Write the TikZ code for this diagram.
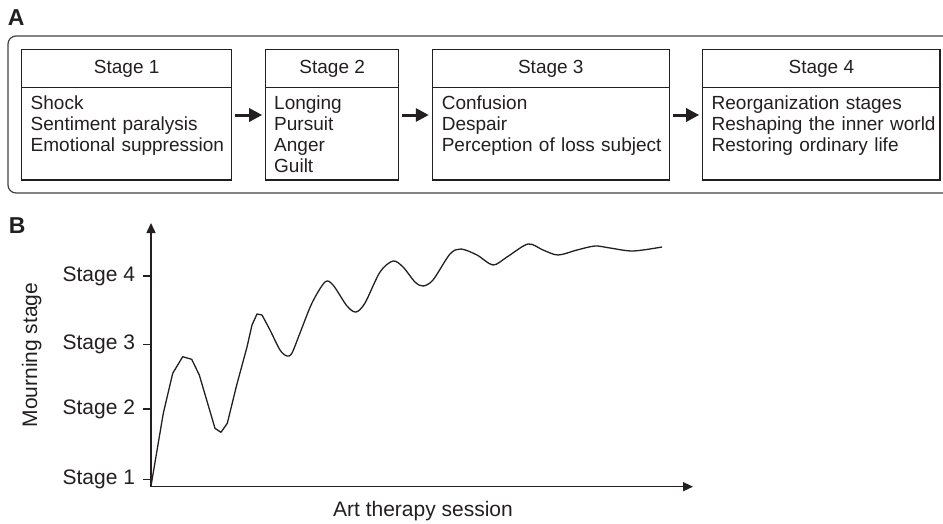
\documentclass[tikz,border=0pt]{standalone}
\usepackage{fontspec}
\setmainfont{Liberation Sans}
\usetikzlibrary{arrows.meta}
\definecolor{ink}{RGB}{35,31,32}
\begin{document}
\begin{tikzpicture}[x=1pt,y=-1pt,
  every node/.style={text=ink, inner sep=0pt, outer sep=0pt},
  hdr/.style={draw=ink, line width=1.4pt, minimum height=38.4pt, anchor=north west, font=\fontsize{19}{21}\selectfont},
  bodybox/.style={draw=ink, line width=1.4pt, minimum height=92.3pt, anchor=north west},
  bodytext/.style={anchor=base west, align=left, text width=232pt, font=\fontsize{19}{21}\selectfont},
  flow/.style={draw=ink, line width=3pt, -{Triangle[length=13pt,width=13pt]}},
  panel/.style={anchor=base west, font=\fontsize{23}{26}\selectfont\bfseries},
  axlabel/.style={font=\fontsize{21}{24}\selectfont},
  axis/.style={draw=ink, line width=1.5pt, {Triangle[length=10pt,width=9pt]}-{Triangle[length=10pt,width=9pt]}},
  tick/.style={draw=ink, line width=1.5pt},
  curve/.style={draw=ink, line width=1.3pt, line join=round},
  outer/.style={draw=ink!85, line width=1.2pt}
]
\useasboundingbox (0,0) rectangle (943,523);

% ---------- Panel A ----------
\node[panel] (labA) at (8,25) {A};
\draw[outer, rounded corners=8pt] (960,36) -- (8,36) -- (8,193) -- (960,193);

\node[hdr, minimum width=210pt] (h1) at (21.7,49.3) {Stage 1};
\node[bodybox, minimum width=210pt] (b1) at (h1.south west) {};
\node[bodytext] (t1) at ([xshift=9pt,yshift=-21.3pt]b1.north west) {Shock\\Sentiment paralysis\\Emotional suppression};

\node[hdr, minimum width=133pt] (h2) at (265.7,49.3) {Stage 2};
\node[bodybox, minimum width=133pt] (b2) at (h2.south west) {};
\node[bodytext] (t2) at ([xshift=8.5pt,yshift=-21.3pt]b2.north west) {Longing\\Pursuit\\Anger\\Guilt};

\node[hdr, minimum width=237pt] (h3) at (432.3,49.3) {Stage 3};
\node[bodybox, minimum width=237pt] (b3) at (h3.south west) {};
\node[bodytext] (t3) at ([xshift=9.5pt,yshift=-21.3pt]b3.north west) {Confusion\\Despair\\Perception of loss subject};

\node[hdr, minimum width=237.3pt] (h4) at (702.7,49.3) {Stage 4};
\node[bodybox, minimum width=237.3pt] (b4) at (h4.south west) {};
\node[bodytext] (t4) at ([xshift=9pt,yshift=-21.3pt]b4.north west) {Reorganization stages\\Reshaping the inner world\\Restoring ordinary life};

\draw[flow] ([xshift=3.5pt,yshift=-27.3pt]b1.north east) -- ([xshift=-3.5pt,yshift=-27.3pt]b2.north west);
\draw[flow] ([xshift=3.5pt,yshift=-27.3pt]b2.north east) -- ([xshift=-3.5pt,yshift=-27.3pt]b3.north west);
\draw[flow] ([xshift=3.5pt,yshift=-27.3pt]b3.north east) -- ([xshift=-3.5pt,yshift=-27.3pt]b4.north west);

% ---------- Panel B ----------
\node[panel] (labB) at (9,233) {B};

\coordinate (ytop) at (151,223);
\coordinate (origin) at (151,486.7);
\coordinate (xend) at (693,486.7);
\draw[axis] (ytop) -- (origin) -- (xend);

\foreach \n/\y in {1/479.3, 2/409, 3/344.3, 4/276} {
  \draw[tick] (143,\y) -- (151,\y);
  \node[axlabel, anchor=east] (s\n) at (135,\y) {Stage \n};
}

\node[axlabel, rotate=90] (ylab) at (31.7,355) {Mourning stage};
\node[axlabel] (xlab) at (423,511) {Art therapy session};

\draw[curve] (151,486) -- (163.3,413.3) -- (172.7,373.3) -- (182.7,356.7) -- (191.7,359.3)
  -- (199.3,375) -- (215,428.3) -- (221,432.3) -- (227.3,423.3) -- (236.7,385)
  -- (247,347) -- (252,325) -- (257,314) -- (262,315);
\draw[curve] plot[smooth, tension=0.5] coordinates {
(262,315) (270,330)
(280,350) (287,356) (292,353) (300,333) (312,303) (325,282) (333,285) (347,306)
(356,312) (365,303) (380,272) (393,261) (403,267) (415,282) (423,286) (433,280)
(450,254) (461,249) (477,255) (493,265) (507,257) (528,244) (543,250) (558,255)
(577,250) (595,246) (610,248) (633,251) (662,247)};
\end{tikzpicture}
\end{document}
